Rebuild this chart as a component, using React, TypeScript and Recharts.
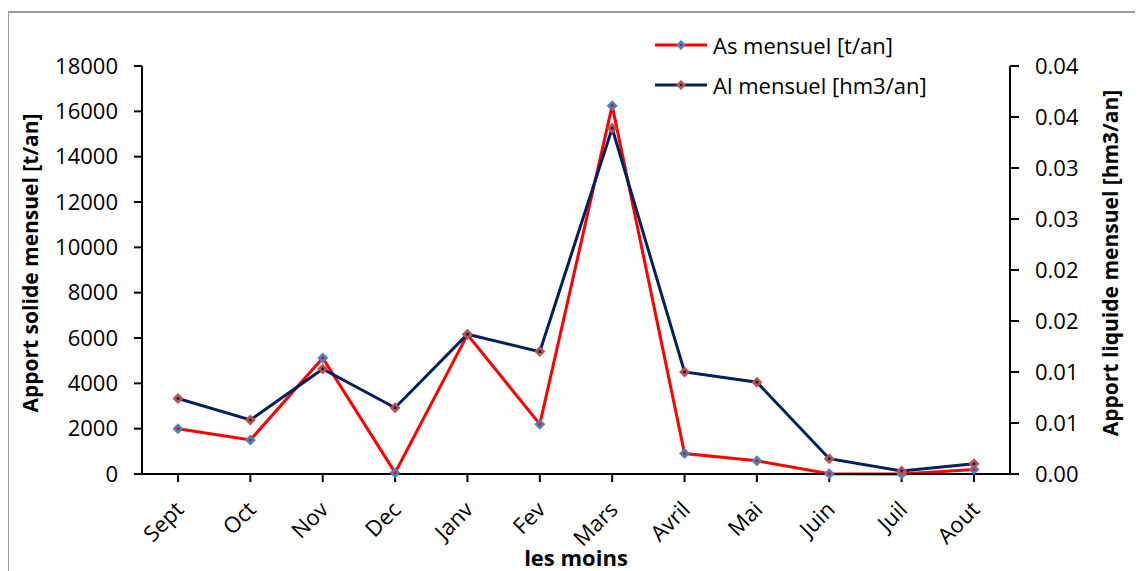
import React from 'react'
import { LineChart, Line, XAxis, YAxis } from 'recharts'

const months = ['Sept', 'Oct', 'Nov', 'Dec', 'Janv', 'Fev', 'Mars', 'Avril', 'Mai', 'Juin', 'Juil', 'Aout']
const asMensuel = [2000, 1500, 5120, 60, 6150, 2200, 16250, 900, 580, 10, 5, 200]
const alMensuel = [0.0074, 0.0053, 0.0103, 0.0065, 0.0137, 0.012, 0.0339, 0.01, 0.009, 0.0015, 0.0003, 0.001]
const leftTicks = [0, 2000, 4000, 6000, 8000, 10000, 12000, 14000, 16000, 18000]
const rightTicks = [0, 0.005, 0.01, 0.015, 0.02, 0.025, 0.03, 0.035, 0.04]
const rightTickLabels = ['0.00', '0.01', '0.01', '0.02', '0.02', '0.03', '0.03', '0.04', '0.04']

const FONT = '"Open Sans", sans-serif'
const AS_COLOR = '#ff0000'
const AL_COLOR = '#002060'
const AS_MARK = '#4f81bd'
const AL_MARK = '#c0504d'

const data = months.map((m, i) => ({ month: m, as: asMensuel[i], al: alMensuel[i] }))

const diamond = (fill: string, center: string) => (props: any) => {
  const { cx, cy, index } = props
  if (cx == null || cy == null) return <g key={index} />
  const r = 5.5
  return (
    <g key={index}>
      <polygon points={`${cx},${cy - r} ${cx + r},${cy} ${cx},${cy + r} ${cx - r},${cy}`} fill={fill} />
      <rect x={cx - 1.3} y={cy - 1.3} width={2.6} height={2.6} fill={center} />
    </g>
  )
}

const MonthTick = (props: any) => {
  const { x, y, payload } = props
  const ax = x + 7
  const ay = y + 27
  return (
    <text x={ax} y={ay} transform={`rotate(-45, ${ax}, ${ay})`} textAnchor="end" fontSize={22} fontFamily={FONT} fill="#000">
      {payload.value}
    </text>
  )
}

const LegendRow = ({ line, mark, center, label }: { line: string; mark: string; center: string; label: string }) => (
  <div style={{ display: 'flex', alignItems: 'center', height: 40 }}>
    <svg width={56} height={14}>
      <line x1={0} y1={7} x2={52} y2={7} stroke={line} strokeWidth={3} />
      <polygon points="26,2 31,7 26,12 21,7" fill={mark} />
      <rect x={25} y={6} width={2} height={2} fill={center} />
    </svg>
    <span style={{ fontSize: 22, marginLeft: 2 }}>{label}</span>
  </div>
)

export default function App() {
  return (
    <div style={{ position: 'relative', width: 1135, height: 563, fontFamily: FONT, color: '#000', background: '#fff' }}>
      {/* outer frame, only top and left edges visible */}
      <div
        style={{
          position: 'absolute',
          left: -1,
          top: 3,
          width: 1136,
          height: 560,
          boxSizing: 'border-box',
          borderTop: '2px solid #9a9a9a',
          borderLeft: '2px solid #9a9a9a',
        }}
      />
      <LineChart width={1135} height={563} data={data} margin={{ top: 58, right: 53, bottom: 7, left: 54 }}>
        <XAxis
          dataKey="month"
          height={90}
          padding={{ left: 36, right: 36 }}
          axisLine={{ stroke: '#000', strokeWidth: 2 }}
          tickLine={{ stroke: '#000', strokeWidth: 2 }}
          tickSize={8}
          tickMargin={2}
          interval={0}
          tick={<MonthTick />}
        />
        <YAxis
          yAxisId="left"
          width={80}
          domain={[0, 18000]}
          ticks={leftTicks}
          interval={0}
          axisLine={{ stroke: '#000', strokeWidth: 2 }}
          tickLine={{ stroke: '#000', strokeWidth: 2 }}
          tickSize={8}
          tickMargin={16}
          tick={{ fontSize: 22, fontFamily: FONT, fill: '#000' }}
        />
        <YAxis
          yAxisId="right"
          orientation="right"
          width={80}
          domain={[0, 0.04]}
          ticks={rightTicks}
          interval={0}
          tickFormatter={(v: number, i: number) => rightTickLabels[i]}
          axisLine={{ stroke: '#000', strokeWidth: 2 }}
          tickLine={{ stroke: '#000', strokeWidth: 2 }}
          tickSize={9}
          tickMargin={16}
          tick={{ fontSize: 22, fontFamily: FONT, fill: '#000' }}
        />
        <Line
          yAxisId="left"
          type="linear"
          dataKey="as"
          stroke={AS_COLOR}
          strokeWidth={3}
          dot={diamond(AS_MARK, AS_COLOR)}
          activeDot={false}
          isAnimationActive={false}
        />
        <Line
          yAxisId="right"
          type="linear"
          dataKey="al"
          stroke={AL_COLOR}
          strokeWidth={3}
          dot={diamond(AL_MARK, AL_COLOR)}
          activeDot={false}
          isAnimationActive={false}
        />
      </LineChart>

      {/* legend */}
      <div style={{ position: 'absolute', left: 647, top: 17 }}>
        <LegendRow line={AS_COLOR} mark={AS_MARK} center={AS_COLOR} label="As mensuel [t/an]" />
        <LegendRow line={AL_COLOR} mark={AL_MARK} center={AL_COLOR} label="Al mensuel [hm3/an]" />
      </div>

      {/* axis titles */}
      <div style={{ position: 'absolute', left: 22, top: 255, width: 0, height: 0 }}>
        <div style={{ position: 'absolute', transform: 'translate(-50%, -50%) rotate(-90deg)', whiteSpace: 'nowrap', fontWeight: 700, fontSize: 21 }}>
          Apport solide mensuel [t/an]
        </div>
      </div>
      <div style={{ position: 'absolute', left: 1102, top: 255, width: 0, height: 0 }}>
        <div style={{ position: 'absolute', transform: 'translate(-50%, -50%) rotate(-90deg)', whiteSpace: 'nowrap', fontWeight: 700, fontSize: 21 }}>
          Apport liquide mensuel [hm3/an]
        </div>
      </div>
      <div style={{ position: 'absolute', left: 568, top: 549, width: 0, height: 0 }}>
        <div style={{ position: 'absolute', transform: 'translate(-50%, -50%)', whiteSpace: 'nowrap', fontWeight: 700, fontSize: 22 }}>
          les moins
        </div>
      </div>
    </div>
  )
}
